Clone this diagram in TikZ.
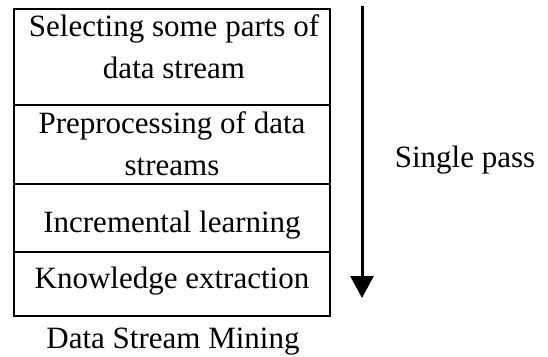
\documentclass[tikz,border=0pt]{standalone}
\usepackage{fontspec}
\setmainfont{Liberation Serif}
\usetikzlibrary{arrows.meta}
\begin{document}
\begin{tikzpicture}[x=1pt,y=-1pt,
  stagebox/.style={draw=black,line width=1.6pt,minimum width=316pt,inner sep=0pt,anchor=north},
  txt/.style={anchor=base,inner sep=0pt,font=\fontsize{31}{40}\selectfont}]
\useasboundingbox (0,0) rectangle (548,356);
\node[stagebox,minimum height=96pt] (b1) at (172,8) {};
\node[stagebox,minimum height=79pt] (b2) at (172,104) {};
\node[stagebox,minimum height=68pt] (b3) at (172,183) {};
\node[stagebox,minimum height=64pt] (b4) at (172,251) {};
\node[txt] (t1a) at (174,36) {Selecting some parts of};
\node[txt] (t1b) at (174,78) {data stream};
\node[txt] (t2a) at (172,133) {Preprocessing of data};
\node[txt] (t2b) at (172,175) {streams};
\node[txt] (t3) at (172,232) {Incremental learning};
\node[txt] (t4) at (172,288) {Knowledge extraction};
\node[txt] (cap) at (173,348) {Data Stream Mining};
\node[txt] (sp) at (465,167) {Single pass};
\coordinate (as) at (362,6);
\coordinate (ae) at (362,298);
\draw[line width=3pt,-{Triangle[width=23pt,length=22pt]}] (as) -- (ae);
\end{tikzpicture}
\end{document}
